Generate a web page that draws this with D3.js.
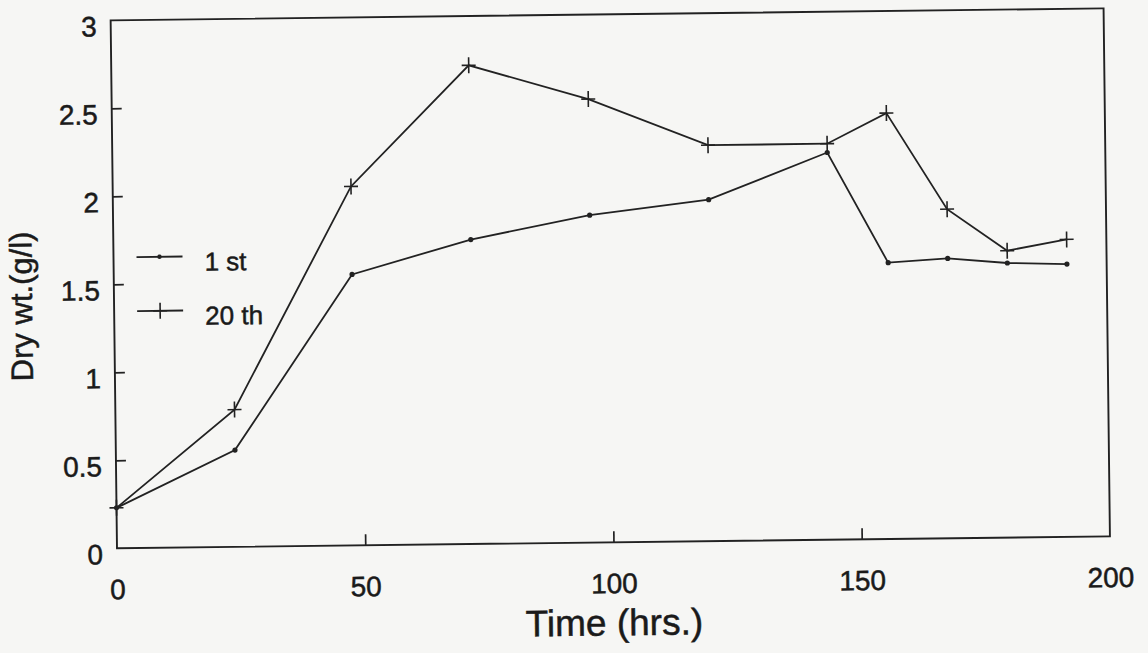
<!DOCTYPE html>
<html>
<head>
<meta charset="utf-8">
<script src="https://cdn.jsdelivr.net/npm/d3@7"></script>
<style>
  html, body { margin: 0; padding: 0; background: #f6f6f4; }
  svg { display: block; }
  text { font-family: "Liberation Sans", Arial, sans-serif; fill: #1a1a1a; stroke: #1a1a1a; stroke-width: 0.5px; }
</style>
</head>
<body>
<div id="chart"></div>
<script>
// culture time (hrs.)
const times = [0, 24, 48, 72, 96, 120, 144, 156, 168, 180, 192];
// dry weight (g/l)
const firstCycle = [0.23, 0.55, 1.54, 1.73, 1.86, 1.94, 2.20, 1.57, 1.59, 1.56, 1.55];
const twentiethCycle = [0.23, 0.78, 2.04, 2.72, 2.52, 2.25, 2.25, 2.42, 1.87, 1.63, 1.69];

const xTicks = [0, 50, 100, 150, 200];
const yTicks = [0, 0.5, 1, 1.5, 2, 2.5, 3];
const seriesNames = ['1 st', '20 th'];

const width = 1148;
const height = 653;
const plotW = 993;
const plotH = 528;
const ink = '#222';

const svg = d3.select('#chart')
  .append('svg')
  .attr('width', width)
  .attr('height', height);

// the scanned page is a little skewed, so turn the whole plot about its bottom-left corner
const g = svg.append('g')
  .attr('transform', `translate(117, 20.3) rotate(-0.69, 0, ${plotH})`);

const x = d3.scaleLinear().domain([0, 200]).range([0, plotW]);
const y = d3.scaleLinear().domain([0, 3]).range([plotH, 0]);

// y axis, ticks pointing inward
const yAxis = g.append('g')
  .call(d3.axisLeft(y).tickValues(yTicks).tickFormat(d3.format('')).tickSize(-10).tickPadding(14));
yAxis.select('.domain').remove();
yAxis.selectAll('.tick line').attr('stroke', ink).attr('stroke-width', 1.7)
  .filter(d => d === 0 || d === 3).remove();
yAxis.selectAll('.tick text')
  .attr('dy', '0.55em')
  .style('font-size', '28px')
  .style('font-family', '"Liberation Sans", Arial, sans-serif');

// x axis
const xAxis = g.append('g')
  .attr('transform', `translate(0, ${plotH})`)
  .call(d3.axisBottom(x).tickValues(xTicks).tickSize(-11).tickPadding(31));
xAxis.select('.domain').remove();
xAxis.selectAll('.tick line').attr('stroke', ink).attr('stroke-width', 1.7)
  .filter(d => d === 0 || d === 200).remove();
xAxis.selectAll('.tick text')
  .style('font-size', '28px')
  .style('font-family', '"Liberation Sans", Arial, sans-serif');

// frame
g.append('rect')
  .attr('x', 0).attr('y', 0)
  .attr('width', plotW).attr('height', plotH)
  .attr('fill', 'none')
  .attr('stroke', ink)
  .attr('stroke-width', 1.9);

// axis titles
g.append('text')
  .attr('x', plotW / 2)
  .attr('y', plotH + 93)
  .attr('text-anchor', 'middle')
  .style('font-size', '37px')
  .text('Time (hrs.)');

g.append('text')
  .attr('transform', `translate(-82, ${plotH - 243}) rotate(-90)`)
  .attr('text-anchor', 'middle')
  .style('font-size', '31px')
  .text('Dry wt.(g/l)');

// lines
const line = d3.line()
  .x(d => x(d[0]))
  .y(d => y(d[1]));

const firstData = times.map((t, i) => [t, firstCycle[i]]);
const twentiethData = times.map((t, i) => [t, twentiethCycle[i]]);

[firstData, twentiethData].forEach(data => {
  g.append('path')
    .datum(data)
    .attr('d', line)
    .attr('fill', 'none')
    .attr('stroke', ink)
    .attr('stroke-width', 1.8);
});

// markers: dots for 1st, plus signs for 20th
g.selectAll('circle.first')
  .data(firstData)
  .enter()
  .append('circle')
  .attr('class', 'first')
  .attr('cx', d => x(d[0]))
  .attr('cy', d => y(d[1]))
  .attr('r', 2.6)
  .attr('fill', ink);

const plus = (sel, px, py) => {
  sel.append('line')
    .attr('x1', px - 7).attr('x2', px + 7)
    .attr('y1', py).attr('y2', py);
  sel.append('line')
    .attr('x1', px).attr('x2', px)
    .attr('y1', py - 8).attr('y2', py + 8);
};

const plusG = g.append('g').attr('stroke', ink).attr('stroke-width', 1.6);
twentiethData.forEach(d => plus(plusG, x(d[0]), y(d[1])));

// legend
const legend = g.append('g').attr('transform', 'translate(23, 237)');
seriesNames.forEach((name, i) => {
  const row = legend.append('g').attr('transform', `translate(0, ${i * 54})`);
  row.append('line')
    .attr('x1', 0).attr('x2', 46)
    .attr('y1', 0).attr('y2', 0)
    .attr('stroke', ink)
    .attr('stroke-width', 1.8);
  if (i === 0) {
    row.append('circle').attr('cx', 23).attr('cy', 0).attr('r', 2.2).attr('fill', ink);
  } else {
    const pg = row.append('g').attr('stroke', ink).attr('stroke-width', 1.6);
    plus(pg, 23, 0);
  }
  row.append('text')
    .attr('x', 68)
    .attr('y', 14.5)
    .style('font-size', '26px')
    .text(name);
});
</script>
</body>
</html>
